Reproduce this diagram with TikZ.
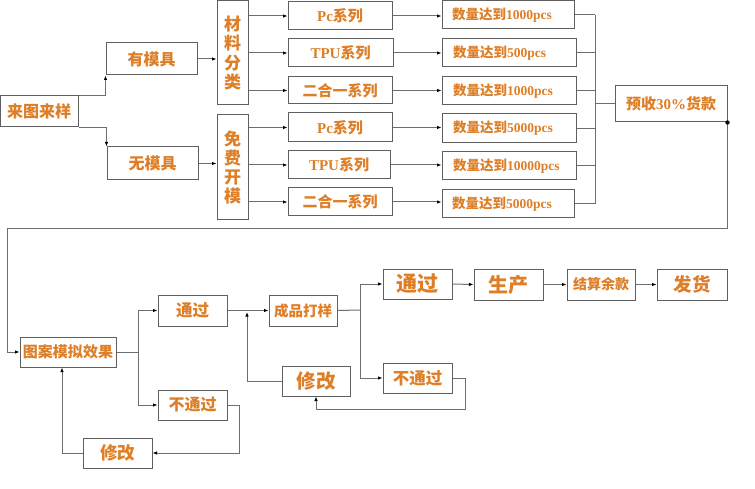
\documentclass[tikz,border=0pt]{standalone}
\usepackage{fontspec}
\setmainfont{Liberation Serif}
\newfontfamily\cjk{Noto Sans CJK SC}
\usetikzlibrary{arrows.meta,calc}
\definecolor{txtorange}{RGB}{222,126,38}
\definecolor{boxgray}{RGB}{95,95,95}
\definecolor{linegray}{RGB}{110,110,110}
\newcommand\zh[1]{{\cjk\bfseries #1}}
\newcommand\la[1]{{\bfseries #1}}
\newcommand\fs[1]{\fontsize{#1}{#1}\selectfont}
\newcommand\bx[7][]{\node[box,#1,minimum width={#5-#3},minimum height={#6-#4}] (#2) at ({(#3+#5)/2},{(#4+#6)/2}) {#7};}
\tikzset{
  box/.style={draw=boxgray,line width=1pt,inner sep=0pt,text=txtorange,fill=white},
  cnt/.style={font=\fs{13.5},text width=112pt,align=left},
  arr/.style={draw=linegray,line width=1pt,-{Latex[length=4.5pt,width=3.5pt,black]}},
  ln/.style={draw=linegray,line width=1pt},
}
\begin{document}
\begin{tikzpicture}[x=1pt,y=-1pt]
\useasboundingbox (0,0) rectangle (755,489);
% top part
\bx[font=\fs{16}]{laitu}{0}{96}{78}{127}{\zh{来图来样}}
\bx[font=\fs{16}]{ymj}{106}{43}{197}{75}{\zh{有模具}}
\bx[font=\fs{16}]{wmj}{107}{147}{198}{180}{\zh{无模具}}
\bx[font=\fontsize{17}{19.5}\selectfont,align=center]{clfl}{217}{1}{248}{105}{\zh{材}\\\zh{料}\\\zh{分}\\\zh{类}}
\bx[font=\fontsize{17}{19}\selectfont,align=center]{mfkm}{217}{115}{248}{220}{\zh{免}\\\zh{费}\\\zh{开}\\\zh{模}}
\bx[font=\fs{15}]{pc1}{288}{2}{392}{30}{\la{Pc}\zh{系列}}
\bx[font=\fs{15}]{tpu1}{288}{39}{393}{67}{\la{TPU}\zh{系列}}
\bx[font=\fs{15}]{eh1}{288}{77}{392}{104}{\zh{二合一系列}}
\bx[font=\fs{15}]{pc2}{288}{113}{392}{142}{\la{Pc}\zh{系列}}
\bx[font=\fs{15}]{tpu2}{288}{151}{390}{179}{\la{TPU}\zh{系列}}
\bx[font=\fs{15}]{eh2}{288}{188}{392}{216}{\zh{二合一系列}}
\bx[cnt]{c1}{442}{1}{574}{29}{\zh{数量达到}\la{1000pcs}}
\bx[cnt]{c2}{442}{39}{576}{67}{\zh{数量达到}\la{500pcs}}
\bx[cnt]{c3}{442}{77}{576}{105}{\zh{数量达到}\la{1000pcs}}
\bx[cnt]{c4}{442}{114}{576}{143}{\zh{数量达到}\la{5000pcs}}
\bx[cnt]{c5}{442}{152}{576}{180}{\zh{数量达到}\la{10000pcs}}
\bx[cnt]{c6}{442}{190}{574}{218}{\zh{数量达到}\la{5000pcs}}
\bx[font=\fs{15}]{ys}{615}{86}{727}{122}{\zh{预收}\la{30\%}\zh{货款}}
% bottom part
\bx[font=\fs{15}]{tuan}{20}{337}{116}{367}{\zh{图案模拟效果}}
\bx[font=\fs{16.5}]{tg1}{158}{295}{227}{326}{\zh{通过}}
\bx[font=\fs{16}]{btg1}{158}{390}{227}{420}{\zh{不通过}}
\bx[font=\fs{17.5}]{xg1}{83}{438}{152}{468}{\zh{修改}}
\bx[font=\fs{14.5}]{cp}{269}{295}{337}{326}{\zh{成品打样}}
\bx[font=\fs{19.5}]{xg2}{282}{366}{350}{396}{\zh{修改}}
\bx[font=\fs{21}]{tg2}{383}{269}{452}{299}{\zh{通过}}
\bx[font=\fs{20}]{sc}{474}{269}{543}{300}{\zh{生产}}
\bx[font=\fs{14}]{js}{567}{269}{635}{300}{\zh{结算余款}}
\bx[font=\fs{18.5}]{fh}{657}{269}{727}{300}{\zh{发货}}
\bx[font=\fs{16.5}]{btg2}{383}{363}{452}{393}{\zh{不通过}}
% coordinates
\coordinate (bus) at (595,104);
\coordinate (loopL) at (7,229);
\coordinate (sp1) at (138,352);
\coordinate (b1) at (239,453);
\coordinate (j1) at (247,312);
\coordinate (sp2) at (360,310);
\coordinate (b2) at (465,409);
% connectors top
\draw[arr] (laitu.north east) -| (ymj.south west);
\draw[arr] (laitu.south east) -| (wmj.north west);
\draw[arr] (ymj.east) -- (ymj.east -| clfl.west);
\draw[arr] (wmj.east) -- (wmj.east -| mfkm.west);
\foreach \s in {pc1,tpu1,eh1}{\draw[arr] (clfl.east |- \s) -- (\s.west);}
\foreach \s in {pc2,tpu2,eh2}{\draw[arr] (mfkm.east |- \s) -- (\s.west);}
\foreach \s/\c in {pc1/c1,tpu1/c2,eh1/c3,pc2/c4,tpu2/c5,eh2/c6}{\draw[arr] (\s.east) -- (\s.east -| \c.west);}
\foreach \c in {c1,c2,c3,c4,c5,c6}{\draw[ln] (\c.east) -- (\c.east -| bus);}
\draw[ln] (c1.east -| bus) -- (c6.east -| bus);
\draw[ln] (bus) -- (ys.west);
\draw[arr] (ys.south east) |- (loopL) |- (tuan.west);
\fill (ys.south east) circle (2.2pt);
% connectors bottom
\draw[ln] (tuan.east) -- (sp1);
\draw[arr] (sp1) |- (tg1.west);
\draw[arr] (sp1) |- (btg1.west);
\draw[arr] (btg1.east) -| (b1) -- (xg1.east);
\draw[arr] (xg1.west) -| ([xshift=-6pt]tuan.south);
\draw[arr] (tg1.east) -- (cp.west);
\draw[arr] (xg2.west) -| (j1);
\draw[ln] (cp.east) -- (sp2);
\draw[arr] (sp2) |- (tg2.west);
\draw[arr] (sp2) |- (btg2.west);
\draw[arr] (tg2.east) -- (sc.west);
\draw[arr] (sc.east) -- (js.west);
\draw[arr] (js.east) -- (fh.west);
\draw[arr] (btg2.east) -| (b2) -| (xg2.south);
\end{tikzpicture}
\end{document}
